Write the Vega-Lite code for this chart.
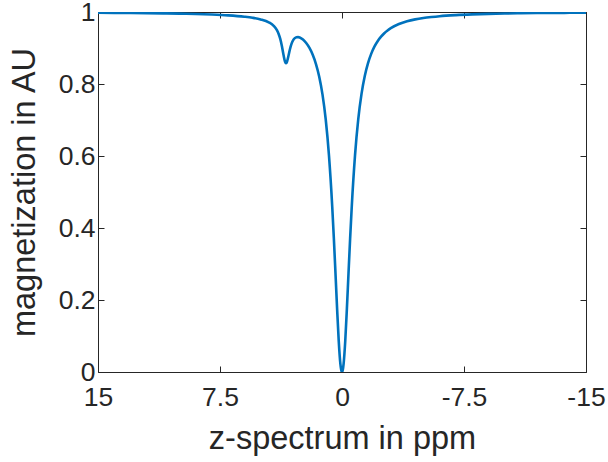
{
  "$schema": "https://vega.github.io/schema/vega-lite/v6.json",
  "width": 488,
  "height": 360,
  "autosize": "none",
  "padding": {"left": 98, "top": 12, "right": 22, "bottom": 90},
  "background": "white",
  "config": {
    "view": {"stroke": null},
    "font": "Liberation Sans",
    "axis": {
      "domainColor": "#262626",
      "tickColor": "#262626",
      "labelColor": "#262626",
      "titleColor": "#262626",
      "labelFont": "Liberation Sans",
      "titleFont": "Liberation Sans",
      "labelFontSize": 26.5,
      "titleFontSize": 32.5,
      "titleFontWeight": "normal",
      "grid": false,
      "tickSize": -6,
      "domainWidth": 1,
      "tickWidth": 1,
      "labelFlush": false,
      "labelOverlap": false
    }
  },
  "data": {
    "values": [
      {"x": 15, "y": 0.9981}, {"x": 14, "y": 0.9977}, {"x": 13, "y": 0.9974}, {"x": 12, "y": 0.9969},
      {"x": 11, "y": 0.9963}, {"x": 10, "y": 0.9956}, {"x": 9, "y": 0.9945}, {"x": 8, "y": 0.993},
      {"x": 7, "y": 0.9907}, {"x": 6, "y": 0.9869}, {"x": 5.5, "y": 0.984}, {"x": 5, "y": 0.9795},
      {"x": 4.5, "y": 0.9714}, {"x": 4.2, "y": 0.9617}, {"x": 4.0, "y": 0.9495}, {"x": 3.9, "y": 0.9398},
      {"x": 3.8, "y": 0.9259}, {"x": 3.7, "y": 0.9063}, {"x": 3.6, "y": 0.882}, {"x": 3.5, "y": 0.8616},
      {"x": 3.45, "y": 0.8577}, {"x": 3.4, "y": 0.8596}, {"x": 3.3, "y": 0.8763}, {"x": 3.2, "y": 0.8966},
      {"x": 3.1, "y": 0.9122}, {"x": 3.0, "y": 0.922}, {"x": 2.9, "y": 0.9274}, {"x": 2.8, "y": 0.9299},
      {"x": 2.7, "y": 0.9303}, {"x": 2.6, "y": 0.9292}, {"x": 2.4, "y": 0.9235}, {"x": 2.2, "y": 0.9138},
      {"x": 2.0, "y": 0.9001}, {"x": 1.8, "y": 0.8811}, {"x": 1.6, "y": 0.8555}, {"x": 1.4, "y": 0.8204},
      {"x": 1.2, "y": 0.7712}, {"x": 1.0, "y": 0.7014}, {"x": 0.8, "y": 0.601}, {"x": 0.6, "y": 0.4588},
      {"x": 0.5, "y": 0.3706}, {"x": 0.4, "y": 0.2737}, {"x": 0.3, "y": 0.1746}, {"x": 0.2, "y": 0.0856},
      {"x": 0.1, "y": 0.0223}, {"x": 0.05, "y": 0.006}, {"x": 0, "y": 0},
      {"x": -0.05, "y": 0.0061}, {"x": -0.1, "y": 0.0234}, {"x": -0.2, "y": 0.0862}, {"x": -0.3, "y": 0.1753},
      {"x": -0.4, "y": 0.2743}, {"x": -0.5, "y": 0.3712}, {"x": -0.6, "y": 0.4595}, {"x": -0.8, "y": 0.6019},
      {"x": -1.0, "y": 0.7025}, {"x": -1.2, "y": 0.7727}, {"x": -1.4, "y": 0.8224}, {"x": -1.6, "y": 0.858},
      {"x": -1.8, "y": 0.8843}, {"x": -2.0, "y": 0.9043}, {"x": -2.2, "y": 0.9195}, {"x": -2.4, "y": 0.9314},
      {"x": -2.6, "y": 0.941}, {"x": -2.8, "y": 0.9487}, {"x": -3.0, "y": 0.955}, {"x": -3.5, "y": 0.9665},
      {"x": -4.0, "y": 0.9742}, {"x": -4.5, "y": 0.9795}, {"x": -5, "y": 0.9833}, {"x": -5.5, "y": 0.9861},
      {"x": -6, "y": 0.9884}, {"x": -7, "y": 0.9914}, {"x": -8, "y": 0.9934}, {"x": -9, "y": 0.9948},
      {"x": -10, "y": 0.9958}, {"x": -11, "y": 0.9965}, {"x": -12, "y": 0.9971}, {"x": -13, "y": 0.9975},
      {"x": -14, "y": 0.9978}, {"x": -15, "y": 0.9981}
    ]
  },
  "layer": [
    {
      "mark": {"type": "line", "color": "#0072BD", "strokeWidth": 2.6, "interpolate": "monotone", "clip": true},
      "encoding": {
        "x": {
          "field": "x", "type": "quantitative",
          "scale": {"domain": [-15, 15], "reverse": true, "nice": false, "zero": false},
          "axis": {"values": [15, 7.5, 0, -7.5, -15], "labelExpr": "'' + datum.value", "title": "z-spectrum in ppm", "labelPadding": 18, "titlePadding": 12, "orient": "bottom"}
        },
        "y": {
          "field": "y", "type": "quantitative",
          "scale": {"domain": [0, 1], "nice": false},
          "axis": {"values": [0, 0.2, 0.4, 0.6, 0.8, 1], "labelExpr": "'' + datum.value", "title": "magnetization in AU", "labelPadding": 9, "titlePadding": 17, "orient": "left"}
        }
      }
    },
    {
      "mark": {"type": "line", "strokeOpacity": 0},
      "encoding": {
        "x": {
          "field": "x", "type": "quantitative",
          "axis": {"orient": "top", "values": [15, 7.5, 0, -7.5, -15], "labels": false, "title": null}
        },
        "y": {
          "field": "y", "type": "quantitative",
          "axis": {"orient": "right", "values": [0, 0.2, 0.4, 0.6, 0.8, 1], "labels": false, "title": null}
        }
      }
    }
  ],
  "resolve": {"axis": {"x": "independent", "y": "independent"}}
}
